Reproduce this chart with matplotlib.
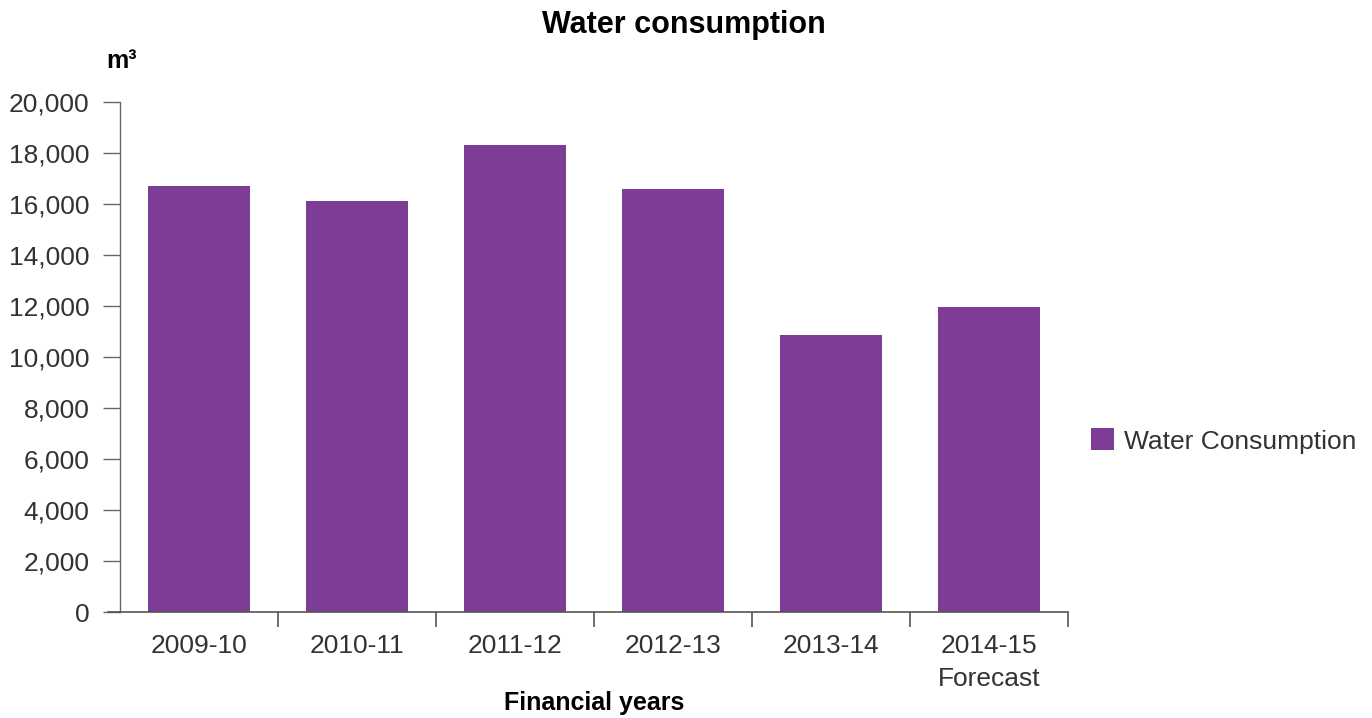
import matplotlib
matplotlib.use("Agg")
import matplotlib.pyplot as plt
import numpy as np

# Annual water consumption (cubic metres) by financial year
years = ["2009-10", "2010-11", "2011-12", "2012-13", "2013-14", "2014-15\nForecast"]
consumption = [16700, 16100, 18300, 16600, 10850, 11950]
y_ticks = [0, 2000, 4000, 6000, 8000, 10000, 12000, 14000, 16000, 18000, 20000]

BAR_COLOR = "#7e3d94"
TEXT_COLOR = "#333333"
AXIS_COLOR = "#555555"

plt.rcParams["font.family"] = ["Liberation Sans", "DejaVu Sans"]

fig = plt.figure(figsize=(13.72, 7.18), dpi=100)
W, H = 1372, 718
left, right, top, bottom = 120, 1068, 102, 612
ax = fig.add_axes([left / W, 1 - bottom / H, (right - left) / W, (bottom - top) / H])

x = np.arange(len(years))
ax.bar(x, consumption, width=0.646, color=BAR_COLOR, label="Water Consumption", zorder=2)

ax.set_xlim(-0.5, len(years) - 0.5)
ax.set_ylim(0, 20000)

for side in ("top", "right"):
    ax.spines[side].set_visible(False)
ax.spines["left"].set_color("#666666")
ax.spines["bottom"].set_color(AXIS_COLOR)
ax.spines["left"].set_linewidth(1.0)
ax.spines["bottom"].set_linewidth(1.2)

# extend the baseline slightly to the left of the value axis
ax.plot([-0.5 - 12 / 158, -0.5], [0, 0], color=AXIS_COLOR, lw=1.2, clip_on=False, zorder=3)

ax.set_yticks(y_ticks)
ax.set_yticklabels([f"{v:,}" for v in y_ticks])
ax.tick_params(axis="y", direction="out", length=12, width=1, color="#666666",
               labelsize=19, labelcolor=TEXT_COLOR, pad=10)

# category labels at bar centres, tick marks at category boundaries
ax.set_xticks(x)
ax.set_xticklabels(years, linespacing=1.45)
ax.set_xticks(np.arange(0.5, len(years) - 0.4, 1.0), minor=True)
ax.tick_params(axis="x", which="major", length=0, labelsize=19, labelcolor=TEXT_COLOR, pad=16)
ax.tick_params(axis="x", which="minor", direction="out", length=11, width=1.2, color=AXIS_COLOR)

fig.text(594 / W, 1 - 703 / H, "Financial years", ha="center", va="center",
         fontsize=18, fontweight="bold")
fig.text(684 / W, 1 - 25 / H, "Water consumption", ha="center", va="center",
         fontsize=22, fontweight="bold")
fig.text(106 / W, 1 - 61 / H, "m³", ha="left", va="center", fontsize=18, fontweight="bold")

leg = ax.legend(loc="center left", bbox_to_anchor=(1080 / W, 1 - 441 / H),
                bbox_transform=fig.transFigure, frameon=False, fontsize=19,
                handlelength=0.9, handleheight=0.9, handletextpad=0.35, borderaxespad=0)
for t in leg.get_texts():
    t.set_color(TEXT_COLOR)

fig.savefig("out.png", dpi=100)
